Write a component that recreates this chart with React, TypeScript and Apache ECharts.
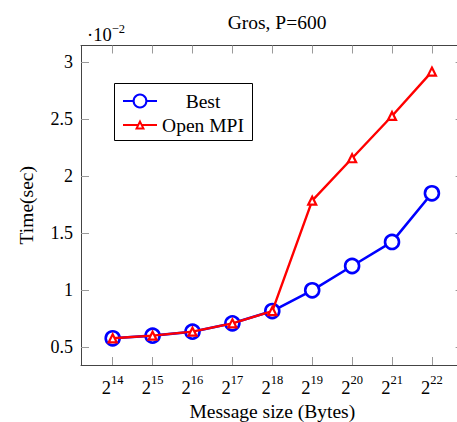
import { useEffect, useRef } from 'react';
import * as echarts from 'echarts';

const chartTitle = 'Gros, P=600';
const xAxisTitle = 'Message size (Bytes)';
const yAxisTitle = 'Time(sec)';
const scaleNote = '10';
const scaleExp = '−2';
const exponents = [14, 15, 16, 17, 18, 19, 20, 21, 22];
const bestTimes = [0.579, 0.602, 0.637, 0.71, 0.818, 1.0, 1.213, 1.424, 1.851];
const openMpiTimes = [0.579, 0.602, 0.637, 0.71, 0.818, 1.786, 2.158, 2.529, 2.918];
const yTicks = [0.5, 1, 1.5, 2, 2.5, 3];
const seriesNames = ['Best', 'Open MPI'];

const FONT = "'Liberation Serif', 'DejaVu Serif', serif";
const AXIS_COLOR = '#444';
const TICK_COLOR = '#9a9a9a';

export default function App() {
  const ref = useRef<HTMLDivElement>(null);
  useEffect(() => {
    if (!ref.current) return;
    const chart = echarts.init(ref.current, null, { renderer: 'svg' });
    const xMin = 13.206;
    const xMax = 22.794;
    const yMin = 0.3447;
    const yMax = 3.147;
    const axisLine = { show: true, onZero: false, lineStyle: { color: AXIS_COLOR, width: 1 } };
    const legendText = {
      fontFamily: FONT,
      fontSize: 19.5,
      color: '#000',
      rich: { t: { width: 82, align: 'center', fontFamily: FONT, fontSize: 19.5, lineHeight: 20 } },
    };
    const legendCommon = {
      orient: 'vertical',
      padding: 0,
      itemWidth: 34,
      formatter: (n: string) => `{t|${n}}`,
      textStyle: legendText,
      itemGap: 5,
    };
    const option: any = {
      animation: false,
      backgroundColor: '#fff',
      grid: { left: 81, top: 45.5, right: -6.6, bottom: 57, containLabel: false, outerBoundsMode: 'none' },
      title: {
        text: chartTitle,
        left: 272,
        top: 7,
        textAlign: 'center',
        textStyle: { fontFamily: FONT, fontSize: 19.5, fontWeight: 'normal', color: '#000' },
      },
      legend: [
        { ...legendCommon, left: 122, top: 91, itemHeight: 16, data: [seriesNames[0]] },
        { ...legendCommon, left: 122, top: 115, itemHeight: 8.5, data: [seriesNames[1]] },
      ],
      xAxis: [
        {
          type: 'value',
          position: 'bottom',
          min: xMin,
          max: xMax,
          axisLine,
          axisTick: { show: true, inside: true, length: 8, customValues: exponents, lineStyle: { color: TICK_COLOR } },
          axisLabel: {
            customValues: exponents,
            margin: 8,
            formatter: (v: number) => `{a|2}{b|${v}}`,
            rich: {
              a: { fontFamily: FONT, fontSize: 18.5, lineHeight: 24, verticalAlign: 'bottom', color: '#000' },
              b: { fontFamily: FONT, fontSize: 12.5, lineHeight: 13, verticalAlign: 'top', color: '#000' },
            },
          },
          splitLine: { show: false },
          name: xAxisTitle,
          nameLocation: 'middle',
          nameGap: 33,
          nameTextStyle: { fontFamily: FONT, fontSize: 19.5, color: '#000' },
        },
        {
          type: 'value',
          position: 'top',
          min: xMin,
          max: xMax,
          axisLine,
          axisTick: { show: true, inside: true, length: 8, customValues: exponents, lineStyle: { color: TICK_COLOR } },
          axisLabel: { show: false },
          splitLine: { show: false },
        },
      ],
      yAxis: [
        {
          type: 'value',
          position: 'left',
          min: yMin,
          max: yMax,
          axisLine,
          axisTick: { show: true, inside: true, length: 8, customValues: yTicks, lineStyle: { color: TICK_COLOR } },
          axisLabel: {
            customValues: yTicks,
            margin: 8,
            formatter: (v: number) => String(v),
            fontFamily: FONT,
            fontSize: 18,
            color: '#000',
          },
          splitLine: { show: false },
          name: yAxisTitle,
          nameLocation: 'middle',
          nameGap: 45,
          nameRotate: 90,
          nameTextStyle: { fontFamily: FONT, fontSize: 19.5, color: '#000' },
        },
        {
          type: 'value',
          position: 'right',
          min: yMin,
          max: yMax,
          axisLine,
          axisTick: { show: true, inside: true, length: 8, customValues: yTicks, lineStyle: { color: TICK_COLOR } },
          axisLabel: { show: false },
          splitLine: { show: false },
        },
      ],
      graphic: [
        {
          type: 'text',
          x: 87,
          y: 22,
          style: {
            text: `{a|·${scaleNote}}{b|${scaleExp}}`,
            rich: {
              a: { fontFamily: FONT, fontSize: 18.5, lineHeight: 22, verticalAlign: 'bottom', fill: '#000' },
              b: { fontFamily: FONT, fontSize: 12.5, lineHeight: 13, verticalAlign: 'top', fill: '#000' },
            },
          },
        },
        {
          type: 'rect',
          shape: { x: 114.5, y: 83.5, width: 138, height: 57 },
          style: { fill: '#fff', stroke: '#000', lineWidth: 1 },
          z: 3,
        },
      ],
      series: [
        {
          name: seriesNames[0],
          type: 'line',
          xAxisIndex: 0,
          yAxisIndex: 0,
          data: exponents.map((e, i) => [e, bestTimes[i]]),
          symbol: 'circle',
          symbolSize: 14,
          showSymbol: true,
          lineStyle: { color: '#0000ff', width: 2.6 },
          itemStyle: { color: '#fff', borderColor: '#0000ff', borderWidth: 2.6 },
          z: 2,
        },
        {
          name: seriesNames[1],
          type: 'line',
          xAxisIndex: 0,
          yAxisIndex: 0,
          data: exponents.map((e, i) => [e, openMpiTimes[i]]),
          symbol: 'triangle',
          symbolSize: 8,
          showSymbol: true,
          lineStyle: { color: '#ff0000', width: 2.4 },
          itemStyle: { color: '#fff', borderColor: '#ff0000', borderWidth: 2.2 },
          z: 3,
        },
      ],
    };
    chart.setOption(option);
    return () => chart.dispose();
  }, []);
  return (
    <div
      ref={ref}
      style={{ position: 'absolute', left: 0, top: 0, width: 457, height: 422, background: '#fff' }}
    />
  );
}
